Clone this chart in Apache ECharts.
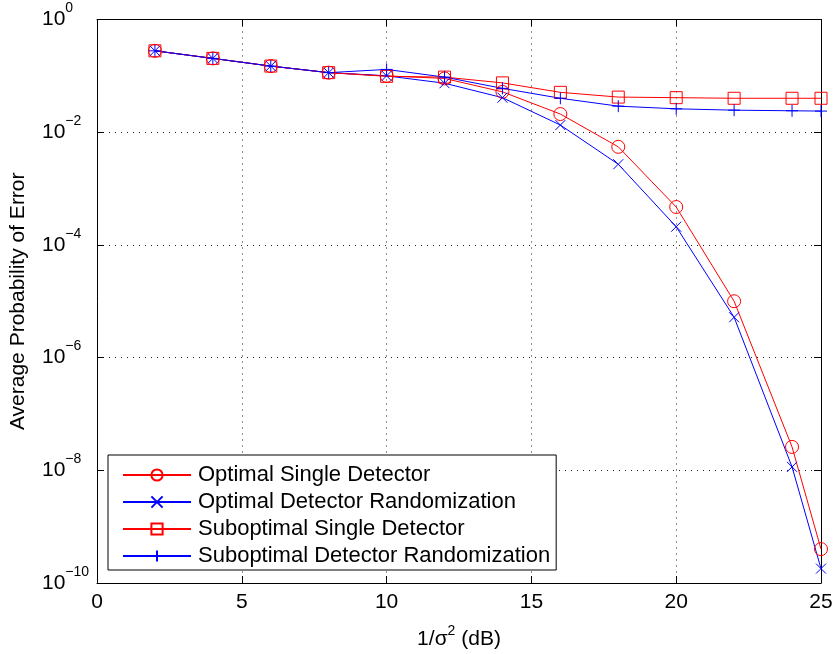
<!DOCTYPE html>
<html>
<head>
<meta charset="utf-8">
<script src="https://cdn.jsdelivr.net/npm/echarts@6/dist/echarts.min.js"></script>
<style>
html,body{margin:0;padding:0;background:#fff;}
#chart{width:836px;height:654px;}
</style>
</head>
<body>
<div id="chart"></div>
<script>
// ---- data ----
const snrDb = [2, 4, 6, 8, 10, 12, 14, 16, 18, 20, 22, 24, 25];
const optimalSingle = [0.278, 0.204, 0.149, 0.114, 0.100, 0.090, 0.052, 0.021, 0.0055, 4.7e-4, 1.0e-5, 2.6e-8, 4.0e-10];
const optimalRandom = [0.278, 0.204, 0.149, 0.114, 0.100, 0.074, 0.041, 0.0134, 0.0027, 2.1e-4, 5.2e-6, 1.15e-8, 1.8e-10];
const suboptSingle  = [0.278, 0.204, 0.149, 0.114, 0.098, 0.095, 0.075, 0.051, 0.042, 0.041, 0.040, 0.040, 0.040];
const suboptRandom  = [0.278, 0.204, 0.149, 0.114, 0.130, 0.095, 0.060, 0.040, 0.029, 0.026, 0.0246, 0.024, 0.0237];
const seriesNames = ['Optimal Single Detector', 'Optimal Detector Randomization', 'Suboptimal Single Detector', 'Suboptimal Detector Randomization'];
const xTicks = [0, 5, 10, 15, 20, 25];
const yTickExponents = [0, -2, -4, -6, -8, -10];

const FONT = '"Liberation Sans", Arial, sans-serif';
const RED = '#ff0000', BLUE = '#0000ff';
const CROSS = 'path://M0,0L10,10M0,10L10,0';
const PLUS = 'path://M5,0L5,10M0,5L10,5';

function pairs(ys) { return snrDb.map((x, i) => [x, ys[i]]); }

function mkSeries(name, ys, color, symbol, size) {
  return {
    name: name, type: 'line', data: pairs(ys),
    symbol: symbol, symbolSize: size,
    lineStyle: { color: color, width: 1 },
    itemStyle: { color: 'rgba(0,0,0,0)', borderColor: color, borderWidth: 1 },
    emphasis: { disabled: true },
    animation: false
  };
}

const chart = echarts.init(document.getElementById('chart'));
const gridLine = { show: true, lineStyle: { color: '#222', type: [1, 5], width: 1 } };
const frameLine = { show: true, onZero: false, lineStyle: { color: '#000', width: 1 } };
const tickStyle = { show: true, inside: true, length: 7, lineStyle: { color: '#000' } };

chart.setOption({
  backgroundColor: '#fff',
  animation: false,
  grid: { left: 97, right: 15, top: 19.5, bottom: 71, containLabel: false, outerBoundsMode: 'none' },
  legend: {
    orient: 'vertical', left: 108, top: 455,
    data: seriesNames,
    backgroundColor: '#fff', borderColor: '#000', borderWidth: 1,
    padding: [9, 6, 3, 14],
    itemWidth: 68, itemHeight: 14, itemGap: 5,
    textStyle: { fontFamily: FONT, fontSize: 22, color: '#000', lineHeight: 22, padding: [0, 0, 0, 2] },
    selectedMode: false
  },
  xAxis: [{
    type: 'value', min: 0, max: 25, interval: 5,
    axisLine: frameLine, axisTick: tickStyle,
    axisLabel: { fontFamily: FONT, fontSize: 21, color: '#000', margin: 9,
      formatter: v => xTicks.indexOf(v) >= 0 ? String(v) : '' },
    splitLine: gridLine,
    name: '1/σ{s|2} (dB)', nameLocation: 'middle', nameGap: 41,
    nameTextStyle: { fontFamily: FONT, fontSize: 21, color: '#000', lineHeight: 30,
      rich: { s: { fontFamily: FONT, fontSize: 14, lineHeight: 14, verticalAlign: 'top', color: '#000' } } }
  }, {
    type: 'value', min: 0, max: 25, interval: 5, position: 'top',
    axisLine: frameLine, axisTick: tickStyle, axisLabel: { show: false }, splitLine: { show: false }
  }],
  yAxis: [{
    type: 'log', logBase: 10, min: 1e-10, max: 1, interval: 2,
    axisLine: frameLine, axisTick: tickStyle,
    axisLabel: {
      margin: 55, align: 'left',
      formatter: function (v) {
        const e = Math.round(Math.log10(v));
        if (yTickExponents.indexOf(e) < 0) return '';
        return '{b|10}{s|' + (e < 0 ? '\u2212' + (-e) : e) + '}';
      },
      rich: {
        b: { fontFamily: FONT, fontSize: 21, lineHeight: 36, color: '#000' },
        s: { fontFamily: FONT, fontSize: 14, lineHeight: 14, verticalAlign: 'top', color: '#000' }
      }
    },
    splitLine: gridLine,
    name: 'Average Probability of Error', nameLocation: 'middle', nameGap: 68,
    nameTextStyle: { fontFamily: FONT, fontSize: 21, color: '#000' }
  }, {
    type: 'log', logBase: 10, min: 1e-10, max: 1, interval: 2, position: 'right',
    axisLine: frameLine, axisTick: tickStyle, axisLabel: { show: false }, splitLine: { show: false }
  }],
  series: [
    mkSeries(seriesNames[0], optimalSingle, RED, 'circle', 13),
    mkSeries(seriesNames[1], optimalRandom, BLUE, CROSS, 10),
    mkSeries(seriesNames[2], suboptSingle, RED, 'rect', 12),
    mkSeries(seriesNames[3], suboptRandom, BLUE, PLUS, 12)
  ]
});
</script>
</body>
</html>
